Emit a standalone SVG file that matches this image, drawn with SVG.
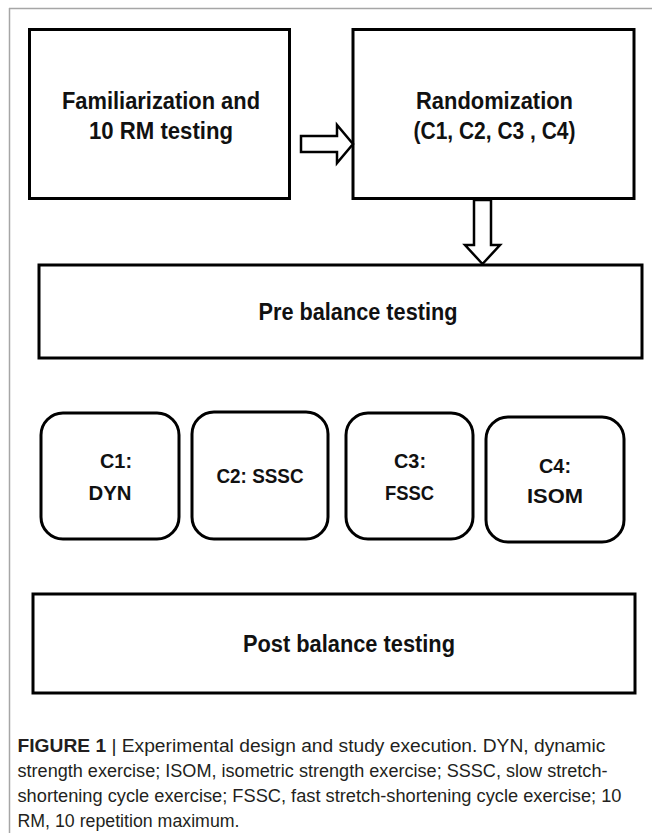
<svg xmlns="http://www.w3.org/2000/svg" width="652" height="833" viewBox="0 0 652 833">
<style>
.frame{stroke:#a6a6a6;stroke-width:1.5;fill:none}
.box{fill:#fff;stroke:#000;stroke-width:3}
.arrow{fill:#fff;stroke:#000;stroke-width:2.5;stroke-linejoin:miter}
.lbl{font-family:"Liberation Sans",Arial,sans-serif;font-weight:bold;font-size:23px;fill:#111;text-anchor:middle}
.cl{font-family:"Liberation Sans",Arial,sans-serif;font-weight:bold;font-size:21px;fill:#111;text-anchor:middle}
.cap{font-family:"Liberation Sans",Arial,sans-serif;font-size:17.5px;fill:#231f20}
.capb{font-weight:bold}
</style>
<rect width="652" height="833" fill="#fff"/>
<g id="frame">
<line class="frame" x1="9" y1="8.5" x2="652" y2="8.5"/>
<line class="frame" x1="9.5" y1="8" x2="9.5" y2="833"/>
</g>
<g id="familiarization">
<rect class="box" x="29.5" y="29.5" width="260" height="169"/>
<text class="lbl" x="161" y="109" textLength="198" lengthAdjust="spacingAndGlyphs">Familiarization and</text>
<text class="lbl" x="161" y="139" textLength="144" lengthAdjust="spacingAndGlyphs">10 RM testing</text>
</g>
<g id="randomization">
<rect class="box" x="353" y="29.5" width="281" height="169"/>
<text class="lbl" x="494.5" y="109" textLength="157" lengthAdjust="spacingAndGlyphs">Randomization</text>
<text class="lbl" x="494.5" y="139" textLength="162" lengthAdjust="spacingAndGlyphs">(C1, C2, C3 , C4)</text>
</g>
<g id="pre">
<rect class="box" x="39" y="265" width="603" height="93"/>
<text class="lbl" x="358" y="320" textLength="199" lengthAdjust="spacingAndGlyphs">Pre balance testing</text>
</g>
<g id="c1">
<rect class="box" x="41" y="413" width="138" height="126" rx="22" ry="22"/>
<text class="cl" x="116" y="468" textLength="32" lengthAdjust="spacingAndGlyphs">C1:</text>
<text class="cl" x="110" y="500" textLength="43" lengthAdjust="spacingAndGlyphs">DYN</text>
</g>
<g id="c2">
<rect class="box" x="192" y="412" width="136" height="127" rx="22" ry="22"/>
<text class="cl" x="260" y="483" textLength="87" lengthAdjust="spacingAndGlyphs">C2: SSSC</text>
</g>
<g id="c3">
<rect class="box" x="346" y="413" width="127" height="126" rx="22" ry="22"/>
<text class="cl" x="410" y="468" textLength="32" lengthAdjust="spacingAndGlyphs">C3:</text>
<text class="cl" x="409.5" y="500" textLength="49" lengthAdjust="spacingAndGlyphs">FSSC</text>
</g>
<g id="c4">
<rect class="box" x="486" y="417" width="138" height="125" rx="22" ry="22"/>
<text class="cl" x="555" y="473" textLength="32" lengthAdjust="spacingAndGlyphs">C4:</text>
<text class="cl" x="555" y="503" textLength="56" lengthAdjust="spacingAndGlyphs">ISOM</text>
</g>
<g id="post">
<rect class="box" x="33" y="594" width="602" height="99"/>
<text class="lbl" x="349" y="652" textLength="212" lengthAdjust="spacingAndGlyphs">Post balance testing</text>
</g>
<g id="connectors">
<polygon class="arrow" points="301,136 337,136 337,125 353,144 337,163 337,152 301,152"/>
<polygon class="arrow" points="474,200 491,200 491,245 500,245 482.5,264 465,245 474,245"/>
</g>
<g id="caption">
<text class="cap" x="17.5" y="752" textLength="588" lengthAdjust="spacingAndGlyphs"><tspan class="capb">FIGURE 1</tspan> | Experimental design and study execution. DYN, dynamic</text>
<text class="cap" x="17.5" y="777" textLength="590" lengthAdjust="spacingAndGlyphs">strength exercise; ISOM, isometric strength exercise; SSSC, slow stretch-</text>
<text class="cap" x="17.5" y="802" textLength="604" lengthAdjust="spacingAndGlyphs">shortening cycle exercise; FSSC, fast stretch-shortening cycle exercise; 10</text>
<text class="cap" x="17.5" y="827" textLength="222" lengthAdjust="spacingAndGlyphs">RM, 10 repetition maximum.</text>
</g>
</svg>
